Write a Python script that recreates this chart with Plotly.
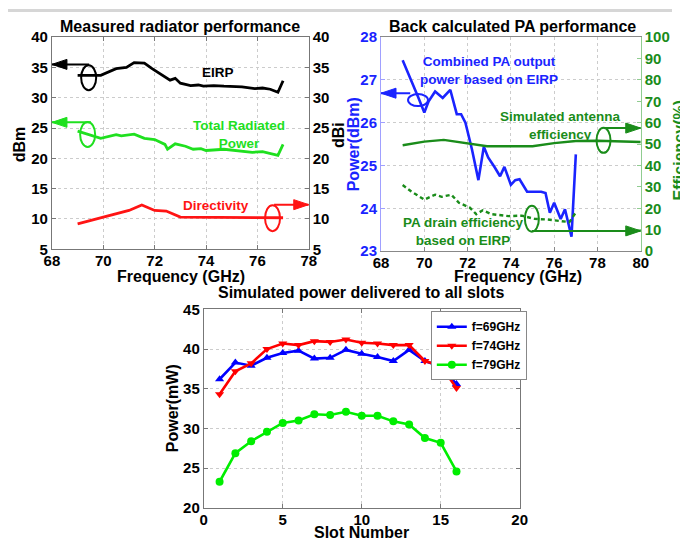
import plotly.graph_objects as go

FONT = "Liberation Sans, Arial, sans-serif"

# ---------- Measured radiator performance ----------
eirp_freq = [69.0, 69.9, 70.5, 70.9, 71.2, 71.6, 71.9, 72.4, 72.6, 72.8, 73.0, 73.4,
             73.7, 73.9, 74.3, 74.7, 75.0, 75.4, 75.9, 76.2, 76.5, 76.8, 77.0]
eirp_dbm = [33.7, 33.7, 34.8, 35.0, 35.8, 35.7, 34.8, 33.5, 32.9, 33.2, 32.4, 32.0,
            32.1, 31.9, 32.0, 31.9, 31.9, 31.8, 31.5, 31.6, 31.4, 30.9, 32.8]

trp_freq = [69.0, 69.9, 70.5, 70.7, 71.2, 71.6, 72.0, 72.4, 72.5, 72.8, 73.2, 73.5,
            73.8, 74.0, 74.7, 75.4, 75.8, 76.2, 76.5, 76.8, 77.0]
trp_dbm = [24.5, 23.3, 23.9, 23.7, 24.0, 23.3, 23.1, 22.3, 21.5, 22.4, 22.0, 21.5,
           21.6, 21.3, 21.5, 21.2, 21.0, 21.1, 20.8, 20.5, 22.3]

dir_freq = [69.0, 71.0, 71.5, 72.0, 72.45, 73.0, 77.0]
dir_dbi = [9.2, 11.4, 12.3, 11.4, 11.3, 10.3, 10.2]

# ---------- Back calculated PA performance ----------
pa_freq = [69.0, 69.4, 69.7, 70.0, 70.2, 70.5, 70.85, 71.2, 71.5, 71.7, 71.9, 72.2,
           72.5, 72.75, 72.95, 73.25, 73.5, 73.7, 74.0, 74.2, 74.4, 74.75, 75.4, 75.6,
           75.8, 76.0, 76.3, 76.5, 76.8, 77.0]
pa_pout = [27.46, 27.0, 26.62, 26.24, 26.5, 26.73, 26.58, 26.77, 26.2, 26.2, 26.0, 25.38,
           24.66, 25.44, 25.19, 24.96, 24.75, 24.97, 24.55, 24.66, 24.68, 24.39, 24.39, 24.36,
           23.9, 24.13, 23.75, 23.98, 23.34, 25.26]

ant_freq = [69.0, 70.0, 70.9, 71.5, 72.3, 72.9, 74.0, 75.0, 76.0, 77.0, 78.0, 79.0, 80.0]
ant_eff = [49.5, 51.2, 52.0, 51.2, 49.8, 49.0, 49.0, 49.0, 50.5, 51.5, 51.6, 51.3, 51.0]

drain_freq = [69.0, 69.4, 70.0, 70.5, 70.8, 71.25, 71.6, 72.1, 72.4, 72.7, 73.1, 73.55,
              73.9, 74.5, 75.1, 75.7, 76.35, 76.7, 77.0]
drain_eff = [30.9, 27.9, 24.1, 26.4, 25.4, 26.4, 22.6, 20.4, 17.3, 19.1, 17.3, 16.9,
             16.4, 16.6, 15.1, 14.8, 14.0, 13.6, 18.1]

# ---------- Simulated power delivered to all slots ----------
slots = list(range(1, 17))
p_69 = [36.2, 38.3, 37.9, 38.9, 39.5, 39.8, 38.8, 38.9, 39.9, 39.4, 39.0, 38.5, 39.9, 38.5, 37.8, 35.6]
p_74 = [34.3, 37.2, 38.2, 40.0, 40.7, 40.5, 41.0, 40.9, 41.2, 40.8, 40.7, 40.5, 40.5, 38.5, 37.9, 35.1]
p_79 = [23.3, 26.9, 28.4, 29.6, 30.7, 31.0, 31.8, 31.7, 32.1, 31.6, 31.6, 30.9, 30.5, 28.8, 28.2, 24.6]

BLACK = "#000000"
LGREEN = "#1fe01f"
RED = "#ff1414"
BLUE = "#1a24ff"
DGREEN = "#1a8c1a"

fig = go.Figure()

# top-left panel
fig.add_trace(go.Scatter(x=eirp_freq, y=eirp_dbm, mode="lines", line=dict(color=BLACK, width=2.8),
                         xaxis="x", yaxis="y", showlegend=False))
fig.add_trace(go.Scatter(x=trp_freq, y=trp_dbm, mode="lines", line=dict(color=LGREEN, width=2.8),
                         xaxis="x", yaxis="y", showlegend=False))
fig.add_trace(go.Scatter(x=dir_freq, y=dir_dbi, mode="lines", line=dict(color=RED, width=2.8),
                         xaxis="x", yaxis="y2", showlegend=False))

# top-right panel
fig.add_trace(go.Scatter(x=pa_freq, y=pa_pout, mode="lines", line=dict(color=BLUE, width=2.6),
                         xaxis="x2", yaxis="y3", showlegend=False))
fig.add_trace(go.Scatter(x=ant_freq, y=ant_eff, mode="lines", line=dict(color=DGREEN, width=2.4),
                         xaxis="x2", yaxis="y4", showlegend=False))
fig.add_trace(go.Scatter(x=drain_freq, y=drain_eff, mode="lines",
                         line=dict(color=DGREEN, width=2.4, dash="4px,3px"),
                         xaxis="x2", yaxis="y4", showlegend=False))

# bottom panel
for name, vals, col, sym in [("f=69GHz", p_69, "#0000ff", "triangle-up"),
                             ("f=74GHz", p_74, "#ff0000", "triangle-down"),
                             ("f=79GHz", p_79, "#00ee00", "circle")]:
    fig.add_trace(go.Scatter(x=slots, y=vals, mode="lines+markers", name=name,
                             line=dict(color=col, width=2.6),
                             marker=dict(symbol=sym, size=8, color=col),
                             xaxis="x3", yaxis="y5"))


def tickfont(color="black"):
    return dict(family=FONT, size=15, color=color, weight="bold")


base = dict(showline=True, linewidth=1, ticks="inside", ticklen=4, zeroline=False,
            gridcolor="#cccccc", griddash="dot", gridwidth=1)

W, H = 680.0, 546.0


def px_x(a, b):
    return [a / W, b / W]


def px_y(top, bottom):
    return [1 - bottom / H, 1 - top / H]


layout = dict(
    width=680, height=546, margin=dict(l=0, r=0, t=0, b=0),
    paper_bgcolor="white", plot_bgcolor="white",
    font=dict(family=FONT, size=13, color="black"),
    xaxis=dict(base, domain=px_x(45, 308), range=[68, 78], dtick=2, anchor="y",
               linecolor="#777777", tickcolor="#777777", mirror="ticks", showgrid=True,
               tickfont=tickfont(), ticklabelstandoff=-2),
    yaxis=dict(base, domain=px_y(29, 248), range=[5, 40], dtick=5, anchor="x",
               linecolor="#777777", tickcolor="#777777", showgrid=True, tickfont=tickfont()),
    yaxis2=dict(base, overlaying="y", side="right", range=[5, 40], dtick=5, anchor="x",
                linecolor="#777777", tickcolor="#777777", showgrid=False, tickfont=tickfont()),
    xaxis2=dict(base, domain=px_x(382, 648), range=[68, 80], dtick=2, anchor="y3",
                linecolor="#888888", tickcolor="#888888", mirror=True, showgrid=True,
                tickfont=tickfont(), ticklabelstandoff=-2),
    yaxis3=dict(base, domain=px_y(29, 250), range=[23, 28], dtick=1, anchor="x2",
                linecolor="#a0a0ff", tickcolor="#a0a0ff", showgrid=True,
                tickfont=tickfont(BLUE)),
    yaxis4=dict(base, overlaying="y3", side="right", range=[0, 100], dtick=10, anchor="x2",
                linecolor="#90cc90", tickcolor="#90cc90", showgrid=False,
                tickfont=tickfont(DGREEN)),
    xaxis3=dict(base, domain=px_x(200.5, 524), range=[0, 20], dtick=5, anchor="y5",
                linecolor="#777777", tickcolor="#777777", mirror="ticks", showgrid=True,
                tickfont=tickfont(), ticklabelstandoff=-2),
    yaxis5=dict(base, domain=px_y(310, 515), range=[20, 45], dtick=5, anchor="x3",
                linecolor="#777777", tickcolor="#777777", mirror="ticks", showgrid=True,
                tickfont=tickfont()),
    legend=dict(x=433 / W, y=1 - 312 / H, xanchor="left", yanchor="top",
                bgcolor="white", bordercolor="#888888", borderwidth=1,
                font=dict(family=FONT, size=12, color="black", weight="bold"),
                tracegroupgap=0, itemwidth=30),
)
fig.update_layout(**layout)

shapes = []
annotations = []


def ptext(text, x, y, size=16, color="black", angle=0):
    annotations.append(dict(text=text, x=x / W, y=1 - y / H, xref="paper", yref="paper",
                            showarrow=False, textangle=angle, xanchor="center", yanchor="middle",
                            font=dict(family=FONT, size=size, color=color, weight="bold")))


def dtext(text, x, y, xref, yref, color, size=13.5):
    annotations.append(dict(text=text, x=x, y=y, xref=xref, yref=yref, showarrow=False,
                            xanchor="center", yanchor="middle", align="center",
                            font=dict(family=FONT, size=size, color=color, weight="bold")))


def ellipse(cx, cy, rx, ry, xref, yref, color):
    shapes.append(dict(type="circle", xref=xref, yref=yref, xsizemode="pixel", ysizemode="pixel",
                       xanchor=cx, yanchor=cy, x0=-rx, x1=rx, y0=-ry, y1=ry,
                       line=dict(color=color, width=2), fillcolor="rgba(0,0,0,0)"))


def arrow(x_from, x_to, y, xref, yref, color):
    # horizontal shaft with a filled triangular head at x_to
    shapes.append(dict(type="line", xref=xref, yref=yref, x0=x_from, x1=x_to, y0=y, y1=y,
                       line=dict(color=color, width=2)))
    d = 1 if x_to < x_from else -1
    shapes.append(dict(type="path", xref=xref, yref=yref, xsizemode="pixel", ysizemode="pixel",
                       xanchor=x_to, yanchor=y,
                       path=f"M0,0 L{15 * d},5 L{15 * d},-5 Z",
                       fillcolor=color, line=dict(color=color, width=1)))


# titles
ptext("Measured radiator performance", 176, 18)
ptext("Back calculated PA performance", 517, 18)
ptext("Simulated power delivered to all slots", 361, 293)

# axis titles
ptext("dBm", 12, 140, angle=-90)
ptext("dBi", 339, 130, angle=-90)
ptext("Frequency (GHz)", 177, 276)
ptext("Power(dBm)", 354, 140, color=BLUE, angle=-90)
annotations.append(dict(text="Efficiency(%)", x=1.0, y=1 - 146 / H, xref="paper", yref="paper",
                        showarrow=False, textangle=-90, xanchor="center", yanchor="middle",
                        xshift=7,
                        font=dict(family=FONT, size=16, color=DGREEN, weight="bold")))
ptext("Frequency (GHz)", 522, 276)
ptext("Power(mW)", 168, 412, angle=-90)
ptext("Slot Number", 362, 540)

# top-left callouts
dtext("EIRP", 74.48, 34.1, "x", "y", BLACK)
dtext("Total Radiated<br>Power", 75.28, 23.87, "x", "y", LGREEN)
dtext("Directivity", 74.4, 12.2, "x", "y", RED)
ellipse(69.43, 33.3, 7.5, 12.5, "x", "y", BLACK)
arrow(69.45, 68.0, 35.5, "x", "y", BLACK)
ellipse(69.39, 23.95, 7.5, 12.5, "x", "y", LGREEN)
arrow(69.52, 68.0, 25.94, "x", "y", LGREEN)
ellipse(76.59, 10.13, 7.5, 13, "x", "y2", RED)
arrow(76.65, 78.0, 12.36, "x", "y2", RED)

# top-right callouts
dtext("Combined PA output<br>power based on EIRP", 73.0, 27.22, "x2", "y3", BLUE)
dtext("Simulated antenna<br>efficiency", 76.3, 25.94, "x2", "y3", DGREEN)
dtext("PA drain efficiency<br>based on EIRP", 71.83, 23.46, "x2", "y3", DGREEN)
ellipse(69.71, 26.53, 10, 6, "x2", "y3", BLUE)
arrow(69.35, 68.0, 26.69, "x2", "y3", BLUE)
ellipse(78.28, 51.8, 7, 12.5, "x2", "y4", DGREEN)
arrow(78.28, 80.0, 57.5, "x2", "y4", DGREEN)
ellipse(74.97, 15.2, 7, 13, "x2", "y4", DGREEN)
arrow(74.97, 80.0, 9.5, "x2", "y4", DGREEN)

# thin grey band along the top edge
shapes.append(dict(type="rect", xref="paper", yref="paper", x0=0, x1=1, y0=1 - 3 / H, y1=1,
                   fillcolor="#d6d6d6", line=dict(width=0), layer="above"))

fig.update_layout(shapes=shapes, annotations=annotations)
fig.write_html("out.html")
